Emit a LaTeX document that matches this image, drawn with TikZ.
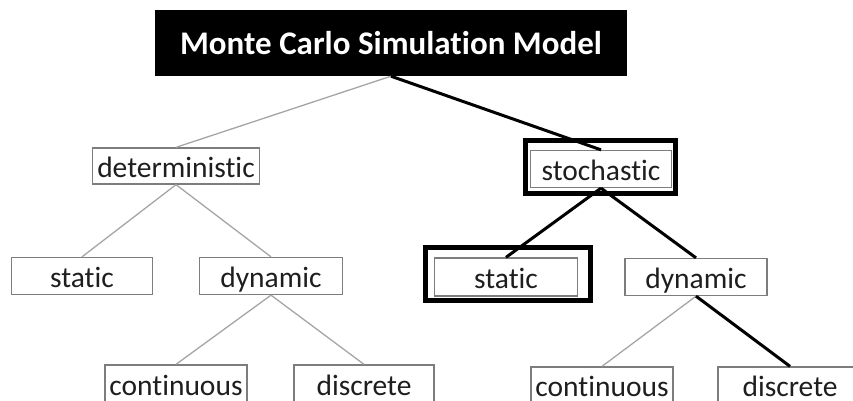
\documentclass[tikz,border=0pt]{standalone}
\usepackage{fontspec}
\setmainfont{Carlito}[Ligatures={NoCommon}]
\usepackage{xcolor}
\usepackage{tikz}

\definecolor{boxgray}{RGB}{125,125,125}
\definecolor{linkgray}{RGB}{165,165,165}
\definecolor{inkgray}{RGB}{30,30,30}
\tikzset{
  leaf/.style={draw=boxgray, line width=1.3pt, fill=white, inner sep=0pt, text=inkgray,
    minimum width=142pt, minimum height=37pt, text height=22pt, text depth=0pt,
    font=\fontsize{29.5}{29.5}\selectfont},
  thinlink/.style={draw=linkgray, line width=1.3pt},
  thicklink/.style={draw=black, line width=3pt},
  frame/.style={draw=black, line width=5pt},
}

\begin{document}
\begin{tikzpicture}[x=1pt,y=-1pt]
\useasboundingbox (0,0) rectangle (853,401);
\scope
\clip (0,0) rectangle (853,401);
% title
\node[fill=black, text=white, inner sep=0pt, minimum width=472pt, minimum height=66pt,
  font=\bfseries\fontsize{33}{33}\selectfont] (mcsm) at (391,43) {Monte Carlo Simulation Model};
% left branch
\node[leaf, minimum width=167pt, minimum height=36pt] (det) at (176,166) {deterministic};
\node[leaf, minimum width=141pt] (statA) at (82,276) {static};
\node[leaf, minimum width=143pt] (dynA) at (271,276) {dynamic};
\node[leaf, minimum height=38pt] (contA) at (176,384) {continuous};
\node[leaf, minimum width=140pt, minimum height=38pt] (discA) at (364,384) {discrete};
% right branch
\node[leaf, minimum width=141pt] (stoch) at (601,169) {stochastic};
\node[leaf, minimum width=143pt, minimum height=38pt] (statB) at (506,277) {static};
\node[leaf] (dynB) at (696,277) {dynamic};
\node[leaf, minimum height=36pt] (contB) at (602,385) {continuous};
\node[leaf, minimum width=144pt, minimum height=36pt] (discB) at (790,385) {discrete};
% frames round the chosen path
\draw[frame] (525.5,140.5) rectangle (675,193.5);
\draw[frame] (425.5,247.5) rectangle (590.5,300.5);
% links
\draw[thinlink] (mcsm.south) -- (det.north);
\draw[thinlink] (det.south) -- (statA.north);
\draw[thinlink] (det.south) -- (dynA.north);
\draw[thinlink] (dynA.south) -- (contA.north);
\draw[thinlink] (dynA.south) -- (discA.north);
\draw[thinlink] (dynB.south) -- (contB.north);
\draw[thicklink] (mcsm.south) -- (stoch.north);
\draw[thicklink] (stoch.south) -- (statB.north);
\draw[thicklink] (stoch.south) -- (dynB.north);
\draw[thicklink] (dynB.south) -- (discB.north);
\endscope
\end{tikzpicture}
\end{document}
